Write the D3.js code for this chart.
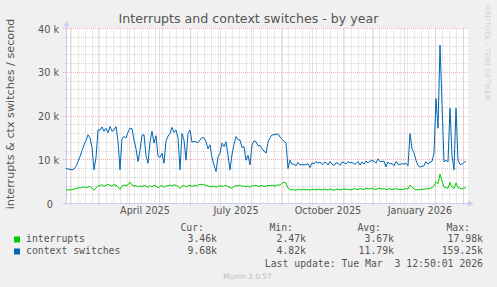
<!DOCTYPE html>
<html>
<head>
<meta charset="utf-8">
<script src="https://d3js.org/d3.v7.min.js"></script>
<style>
body { margin: 0; background: #f0f0f0; }
svg { display: block; font-family: "DejaVu Sans", sans-serif; }
.mono { font-family: "DejaVu Sans Mono", monospace; font-size: 9.8px; fill: #555; white-space: pre; }
</style>
</head>
<body>
<div id="chart"></div>
<script>
// one sample every 2 days, from 400 days before the last update
var startDate = new Date(2025, 0, 27, 12, 50);
var endDate = new Date(2026, 2, 3, 12, 50);
var stepDays = 2;

// values in thousands per second
var interruptsK = [
  3.2, 3.1, 3.1, 3.2, 3.3, 3.4, 3.6, 3.5, 3.7, 3.8, 3.6,
  3.8, 3.9, 3.5, 3.0, 3.6, 4.0, 4.1, 4.3, 3.9, 4.2,
  4.4, 4.1, 4.0, 4.3, 4.2, 3.8, 3.2, 4.0, 4.2, 4.1,
  4.3, 4.9, 4.2, 4.0, 4.1, 3.8, 4.0, 3.9, 4.1, 4.0,
  3.7, 4.1, 3.8, 4.2, 4.0, 3.6, 3.9, 4.1, 3.7, 4.0,
  4.1, 4.2, 4.0, 4.3, 4.1, 3.9, 3.4, 4.0, 4.1, 3.8,
  4.0, 4.2, 3.9, 4.1, 4.0, 4.2, 4.4, 4.3, 4.4, 4.1,
  4.0, 3.9, 3.8, 4.0, 3.7, 3.9, 4.1, 3.9, 4.0, 4.1,
  3.9, 3.6, 3.5, 3.9, 4.1, 4.0, 4.2, 3.9, 4.0, 3.8,
  4.0, 3.7, 4.1, 4.0, 4.2, 3.9, 4.0, 4.1, 3.9, 4.0, 4.1,
  4.1, 4.2, 4.0, 4.1, 4.3, 4.2, 4.6, 4.9, 4.7,
  3.5, 3.2, 3.1, 3.2, 3.0, 3.3, 3.1, 3.2, 3.3, 3.1,
  3.2, 3.0, 3.3, 3.2, 3.1, 3.3, 3.2, 3.1, 3.3, 3.2,
  3.1, 3.3, 3.2, 3.0, 3.2, 3.3, 3.1, 3.2, 3.4, 3.2,
  3.3, 3.1, 3.2, 3.4, 3.3, 3.2, 3.4, 3.3, 3.2, 3.5,
  3.4, 3.3, 3.5, 3.3, 3.2, 3.4, 3.5, 3.3, 3.4, 3.2,
  3.3, 3.4, 3.2, 3.3, 3.4, 3.2, 3.3, 3.2, 3.3, 3.4,
  3.3, 4.2, 3.7, 3.4, 3.2, 3.1, 3.2, 3.3, 3.2, 3.4,
  3.3, 3.5, 3.6, 4.0, 5.0, 4.5, 6.7, 5.2, 3.7, 3.6,
  3.5, 4.8, 3.7, 3.4, 4.7, 3.6, 3.5, 3.3, 3.6, 3.5
];

var ctxSwitchesK = [
  8.05, 7.9, 7.8, 7.7, 7.9, 8.5, 9.6, 10.7, 12.1, 13.4, 14.4,
  15.7, 15.0, 12.8, 7.7, 10.5, 16.8, 16.8, 17.5, 16.5, 17.2,
  16.2, 17.6, 16.5, 16.8, 17.6, 14.2, 7.7, 14.9, 15.3, 15.0,
  16.3, 17.2, 17.1, 14.5, 12.5, 9.6, 12.2, 15.6, 15.7, 11.0,
  9.2, 14.0, 16.5, 13.8, 15.5, 10.8, 10.5, 11.5, 9.2, 14.3,
  15.4, 16.0, 17.4, 16.2, 16.8, 15.0, 7.7, 16.0, 14.5, 9.9,
  16.0, 16.8, 14.0, 14.2, 14.1, 13.9, 14.5, 15.1, 15.0, 14.1,
  12.5, 13.4, 10.5, 8.8, 7.3, 10.7, 11.5, 13.8, 13.0, 14.1,
  11.0, 7.7, 11.2, 13.5, 15.3, 14.6, 14.5, 12.8, 13.0, 9.9,
  11.0, 8.8, 13.4, 14.3, 14.1, 13.2, 13.3, 12.5, 12.0, 11.5, 14.0,
  15.0, 15.7, 15.7, 15.8, 15.9, 15.2, 14.7, 14.2, 13.9,
  8.0, 9.9, 9.0, 9.0, 8.6, 9.4, 8.8, 8.9, 8.8, 8.9,
  9.1, 8.2, 9.3, 9.0, 9.6, 9.2, 9.5, 8.9, 9.3, 9.4,
  8.8, 9.6, 9.0, 8.7, 9.3, 9.2, 8.7, 9.5, 9.3, 9.0,
  9.6, 9.3, 9.4, 9.0, 9.1, 9.6, 8.8, 9.5, 9.0, 9.7,
  9.3, 9.7, 9.8, 9.7, 9.2, 10.2, 9.6, 9.6, 9.7, 8.4,
  9.5, 9.0, 9.2, 8.6, 9.6, 9.0, 8.9, 9.1, 9.0, 9.2,
  8.6, 16.0, 12.5, 11.6, 9.9, 8.7, 8.3, 8.5, 8.6, 9.6,
  9.0, 9.5, 9.6, 11.5, 24.0, 17.2, 36.2, 22.9, 9.5, 9.9,
  9.5, 21.8, 11.0, 7.7, 21.8, 9.9, 8.9, 9.0, 9.4, 9.7
];

var yTicks = [0, 10, 20, 30, 40];
var xLabelMonths = [new Date(2025, 3, 1), new Date(2025, 6, 1), new Date(2025, 9, 1), new Date(2026, 0, 1)];
var xLabels = ["April 2025", "July 2025", "October 2025", "January 2026"];

var seriesNames = ["interrupts", "context switches"];
var seriesColors = ["#00cc00", "#0066b3"];
var statHeaders = ["Cur:", "Min:", "Avg:", "Max:"];
var statCur = ["3.46k", "9.68k"];
var statMin = ["2.47k", "4.82k"];
var statAvg = ["3.67k", "11.79k"];
var statMax = ["17.98k", "159.25k"];

var width = 497, height = 287;
var plotLeft = 66, plotRight = 466, plotTop = 28.5, plotBottom = 203.5;

var svg = d3.select("#chart").append("svg")
  .attr("width", width)
  .attr("height", height);

svg.append("rect").attr("width", width).attr("height", height).attr("fill", "#f0f0f0");

var x = d3.scaleTime().domain([startDate, endDate]).range([plotLeft, plotRight]);
var y = d3.scaleLinear().domain([0, 40]).range([plotBottom, plotTop]);

function crisp(v) { return Math.floor(v) + 0.5; }

// canvas
svg.append("rect")
  .attr("x", plotLeft).attr("y", plotTop - 0.5)
  .attr("width", plotRight - plotLeft + 2).attr("height", plotBottom - plotTop + 0.5)
  .attr("fill", "#ffffff");

var grid = svg.append("g").attr("stroke-width", 1).attr("stroke-dasharray", "1,1").attr("fill", "none");

// minor grid
grid.selectAll(".vmin")
  .data(d3.timeSunday.range(startDate, endDate))
  .enter().append("line")
  .attr("x1", function(d) { return crisp(x(d)); })
  .attr("x2", function(d) { return crisp(x(d)); })
  .attr("y1", plotTop).attr("y2", plotBottom)
  .attr("stroke", "#d4d4d4");

grid.selectAll(".hmin")
  .data(y.ticks(20))
  .enter().append("line")
  .attr("x1", plotLeft - 3).attr("x2", plotRight + 2)
  .attr("y1", function(d) { return crisp(y(d)); })
  .attr("y2", function(d) { return crisp(y(d)); })
  .attr("stroke", "#d4d4d4");

// major grid
grid.selectAll(".vmaj")
  .data(d3.timeMonth.range(startDate, endDate))
  .enter().append("line")
  .attr("x1", function(d) { return crisp(x(d)); })
  .attr("x2", function(d) { return crisp(x(d)); })
  .attr("y1", plotTop).attr("y2", plotBottom + 3)
  .attr("stroke", "#ecb4b4");

grid.selectAll(".hmaj")
  .data(yTicks)
  .enter().append("line")
  .attr("x1", plotLeft - 3).attr("x2", plotRight + 2)
  .attr("y1", function(d) { return crisp(y(d)); })
  .attr("y2", function(d) { return crisp(y(d)); })
  .attr("stroke", "#ecb4b4");

// axes lines and arrows
var axisColor = "#c6cdf5";
svg.append("line").attr("x1", plotLeft + 0.5).attr("x2", plotLeft + 0.5).attr("y1", plotBottom + 1).attr("y2", 24)
  .attr("stroke", axisColor);
svg.append("line").attr("x1", plotLeft - 3).attr("x2", 470).attr("y1", plotBottom).attr("y2", plotBottom)
  .attr("stroke", axisColor);
svg.append("path").attr("d", "M63.5,26.5 L66.5,21 L69.5,26.5 Z").attr("fill", axisColor);
svg.append("path").attr("d", "M468,200.5 L473.5,203.5 L468,206.5 Z").attr("fill", axisColor);

// data lines
var line = d3.line()
  .x(function(d, i) { return x(d3.timeDay.offset(startDate, i * stepDays)); })
  .y(function(d) { return y(d); });

svg.append("path").datum(interruptsK)
  .attr("d", line).attr("fill", "none")
  .attr("stroke", seriesColors[0]).attr("stroke-width", 1);

svg.append("path").datum(ctxSwitchesK)
  .attr("d", line).attr("fill", "none")
  .attr("stroke", seriesColors[1]).attr("stroke-width", 1);

// y axis labels
var yAxis = svg.append("g")
  .attr("transform", "translate(" + plotLeft + ",0)")
  .call(d3.axisLeft(y).tickValues(yTicks).tickSize(0).tickPadding(7)
    .tickFormat(function(d) { return d === 0 ? "0" : d + " k"; }));
yAxis.select(".domain").remove();
yAxis.selectAll("text")
  .attr("fill", "#555").attr("font-size", "9.7px").attr("font-family", "DejaVu Sans")
  .attr("dy", "0.36em")
  .attr("dx", function(d) { return d === 0 ? -6 : 0; });

// x axis labels, centred half a month after the month start
var xAxis = svg.append("g")
  .attr("transform", "translate(0," + plotBottom + ")")
  .call(d3.axisBottom(x)
    .tickValues(xLabelMonths.map(function(d) { return d3.timeDay.offset(d, 15); }))
    .tickSize(0).tickPadding(4)
    .tickFormat(function(d, i) { return xLabels[i]; }));
xAxis.select(".domain").remove();
xAxis.selectAll("text")
  .attr("fill", "#555").attr("font-size", "9.7px").attr("font-family", "DejaVu Sans");

// title
svg.append("text")
  .attr("x", 248.5).attr("y", 23)
  .attr("text-anchor", "middle")
  .attr("font-size", "12.6px").attr("fill", "#555")
  .text("Interrupts and context switches - by year");

// vertical unit label
svg.append("text")
  .attr("transform", "translate(14,114) rotate(-90)")
  .attr("text-anchor", "middle")
  .attr("font-size", "11.2px").attr("fill", "#555")
  .text("interrupts & ctx switches / second");

// watermark
svg.append("text")
  .attr("transform", "translate(485,5) rotate(90)")
  .attr("font-size", "7.4px").attr("fill", "#d2d2d2")
  .text("RRDTOOL / TOBI OETIKER");

// legend
var headerEnds = [204, 293, 381, 470];
var valueEnds = [217, 306, 394, 483];
var stats = [statCur, statMin, statAvg, statMax];
var rowBase = [242, 254];

svg.selectAll(".hdr").data(statHeaders).enter().append("text")
  .attr("class", "mono")
  .attr("x", function(d, i) { return headerEnds[i]; })
  .attr("y", 231)
  .attr("text-anchor", "end")
  .text(function(d) { return d; });

seriesNames.forEach(function(name, s) {
  svg.append("rect")
    .attr("x", 14).attr("y", rowBase[s] - 5.5)
    .attr("width", 6).attr("height", 6)
    .attr("fill", seriesColors[s]);
  svg.append("text").attr("class", "mono")
    .attr("x", 26).attr("y", rowBase[s])
    .text(name);
  stats.forEach(function(col, c) {
    svg.append("text").attr("class", "mono")
      .attr("x", valueEnds[c]).attr("y", rowBase[s])
      .attr("text-anchor", "end")
      .text(col[s]);
  });
});

svg.append("text").attr("class", "mono")
  .attr("x", 483).attr("y", 266.5)
  .attr("text-anchor", "end")
  .text("Last update: Tue Mar  3 12:50:01 2026");

svg.append("text")
  .attr("x", 247.5).attr("y", 279)
  .attr("text-anchor", "middle")
  .attr("font-size", "7.4px").attr("fill", "#bdbdbd")
  .text("Munin 2.0.57");
</script>
</body>
</html>
